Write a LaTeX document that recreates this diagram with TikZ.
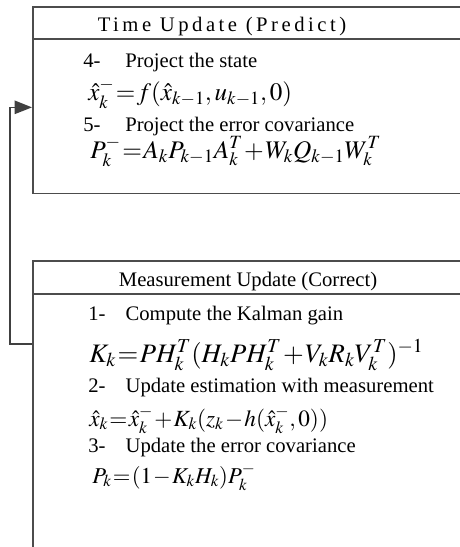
\documentclass[tikz,border=0pt]{standalone}
\usepackage{mathptmx}
\usepackage{fontspec}
\setmainfont{Liberation Serif}
\usetikzlibrary{arrows.meta}
\newcommand\tightmath{\medmuskip=1mu\relax\thickmuskip=1mu\relax}

\begin{document}
\begin{tikzpicture}[x=0.75pt, y=-0.75pt,
    box/.style={draw=black!70, line width=1.2pt, anchor=north west, minimum width=360pt, inner sep=0pt},
    headline/.style={draw=black!70, line width=1.2pt},
    head/.style={font=\fontsize{15.5}{18}\selectfont, anchor=base},
    steptext/.style={font=\fontsize{15.5}{18}\selectfont, anchor=base west, inner sep=0pt},
    formula/.style={font=\fontsize{#1}{20}\selectfont, anchor=base west, inner sep=0pt},
    loop/.style={draw=black!75, line width=1.2pt, -{Triangle[length=13pt, width=10pt]}}
]
\useasboundingbox (0,0) rectangle (460,547);
\clip (0,0) rectangle (460,547);

%% Time update (top)
\node[box, minimum height=140pt] (predict) at (32,6) {};
\draw[headline] (32,39) -- (480,39);
\node[head] (predhead) at (222,31) {\addfontfeature{LetterSpace=17}Time Update (Predict)};
\node[steptext] (s4) at (83,67) {\makebox[31.5pt][l]{4-}Project the state};
\node[formula=18.8] (f4) at (88,100) {\tightmath$\hat{x}_k^{-} = f(\hat{x}_{k-1}, u_{k-1}, 0)$};
\node[steptext] (s5) at (83,131) {\makebox[31.5pt][l]{5-}Project the error covariance};
\node[formula=19] (f5) at (90,158) {\tightmath$P_k^{-} = A_k P_{k-1} A_k^T + W_k Q_{k-1} W_k^T$};

%% Measurement update (bottom)
\node[box, minimum height=230pt] (correct) at (32,260) {};
\draw[headline] (32,294) -- (480,294);
\node[head] (corrhead) at (248,286) {Measurement Update (Correct)};
\node[steptext] (s1) at (88,320) {\makebox[28pt][l]{1-}Compute the Kalman gain};
\node[formula=20] (f1) at (89,362) {\tightmath$K_k = P H_k^T (H_k P H_k^T + V_k R_k V_k^T)^{-1}$};
\node[steptext] (s2) at (88,392) {\makebox[28pt][l]{2-}Update estimation with measurement};
\node[formula=17.4] (f2) at (89,426) {\tightmath$\hat{x}_k = \hat{x}_k^{-} + K_k (z_k - h(\hat{x}_k^{-}, 0))$};
\node[steptext] (s3) at (88,452) {\makebox[28pt][l]{3-}Update the error covariance};
\node[formula=17] (f3) at (92,483) {\tightmath$P_k = (1 - K_k H_k) P_k^{-}$};

%% Feedback loop
\draw[loop] ([yshift=-63pt]correct.north west) -- ++(-22,0) |- ([yshift=-76pt]predict.north west);

\end{tikzpicture}
\end{document}
